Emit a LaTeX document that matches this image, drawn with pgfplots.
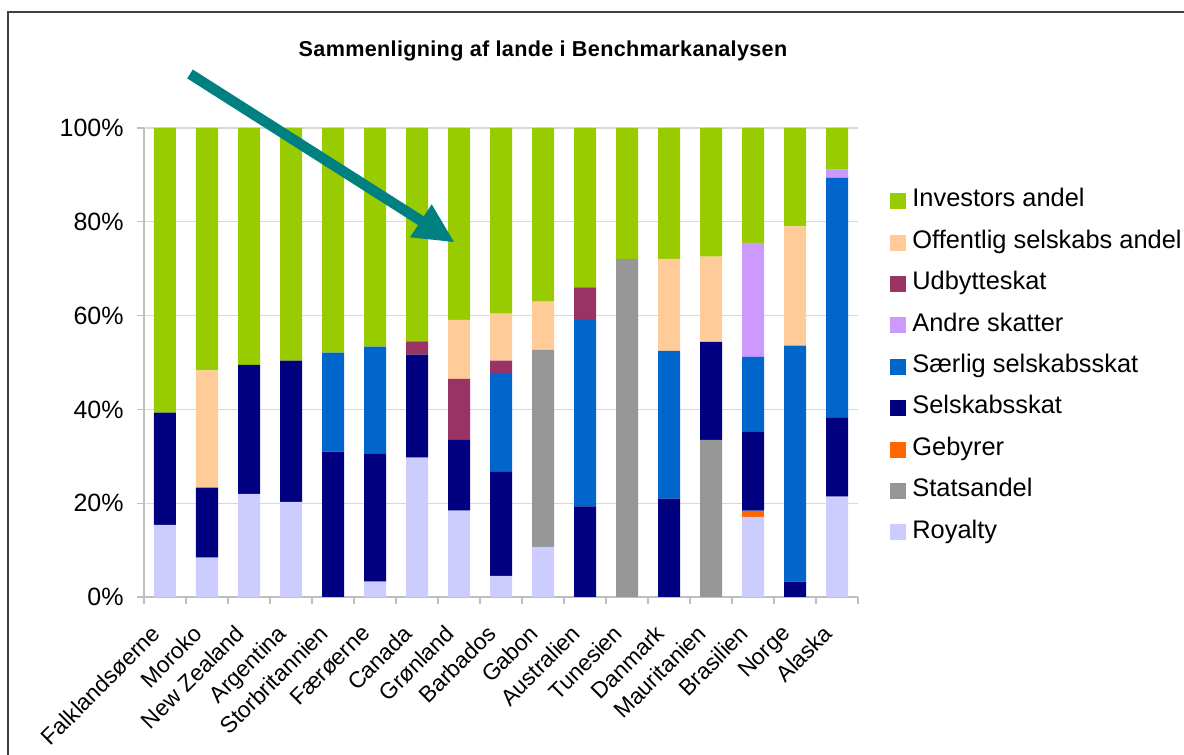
\documentclass[border=0pt]{standalone}
\usepackage{pgfplots}
\pgfplotsset{compat=1.18}
\usepackage{pgfplotstable}
\usepackage{fontspec}
\setmainfont{Liberation Sans}
\definecolor{cInv}{HTML}{99CC00}
\definecolor{cOff}{HTML}{FFCC99}
\definecolor{cUdb}{HTML}{993366}
\definecolor{cAnd}{HTML}{CC99FF}
\definecolor{cSaer}{HTML}{0066CC}
\definecolor{cSel}{HTML}{000080}
\definecolor{cGeb}{HTML}{FF6600}
\definecolor{cStat}{HTML}{969696}
\definecolor{cRoy}{HTML}{CCCCFF}
\definecolor{cArrow}{HTML}{008080}
\definecolor{cFrame}{HTML}{404040}
\definecolor{cGrid}{HTML}{D9D9D9}
\definecolor{cAxis}{HTML}{BFBFBF}

\pgfplotstableread{
x  roy  stat geb sel  saer andre udb  off  inv
0  15.4 0    0   23.9 0    0     0    0    60.7
1  8.4  0    0   14.9 0    0     0    25.0 51.7
2  22.0 0    0   27.5 0    0     0    0    50.5
3  20.3 0    0   30.1 0    0     0    0    49.6
4  0    0    0   31.0 21.1 0     0    0    47.9
5  3.3  0    0   27.3 22.8 0     0    0    46.6
6  29.7 0    0   22.0 0    0     2.8  0    45.5
7  18.4 0    0   15.1 0    0     13.0 12.6 40.9
8  4.5  0    0   22.2 21.1 0     2.6  10.0 39.6
9  10.7 42.0 0   0    0    0     0    10.3 37.0
10 0    0    0   19.3 39.8 0     6.9  0    34.0
11 0    72.1 0   0    0    0     0    0    27.9
12 0    0    0   21.0 31.5 0     0    19.6 27.9
13 0    33.5 0   20.9 0    0     0    18.2 27.4
14 17.1 0    1.3 16.9 15.9 24.3  0    0    24.5
15 0    0    0   3.3  50.3 0     0    25.4 21.0
16 21.4 0    0   16.8 51.2 1.7   0    0    8.9
}\data

\begin{document}
\begin{tikzpicture}[x=1pt,y=1pt]
\useasboundingbox (0,0) rectangle (592,377.5);
\draw[cFrame, line width=0.8pt] (4,-10) rectangle (600,371.5);
\node[font=\bfseries\fontsize{10.8}{13}\selectfont] at (271.5,352) {\addfontfeatures{LetterSpace=1.5}Sammenligning af lande i Benchmarkanalysen};
\begin{axis}[
  at={(72pt,79pt)}, anchor=south west,
  scale only axis, width=357pt, height=234.5pt,
  ybar stacked, bar width=11pt,
  xmin=-0.5, xmax=16.5, ymin=0, ymax=100,
  axis x line*=bottom, axis y line*=left,
  axis line style={cAxis, line width=0.6pt},
  ymajorgrids, grid style={cGrid, line width=0.6pt},
  ytick={0,20,...,100},
  yticklabel={\pgfmathprintnumber{\tick}\%},
  xtick={0,...,16},
  xticklabels={Falklandsøerne,Moroko,New Zealand,Argentina,Storbritannien,Færøerne,Canada,Grønland,Barbados,Gabon,Australien,Tunesien,Danmark,Mauritanien,Brasilien,Norge,Alaska},
  minor xtick={-0.5,0.5,...,16.5},
  tick align=outside,
  major tick length=3.5pt, minor tick length=3.5pt,
  x tick style={draw=none}, minor x tick style={cAxis, draw=cAxis, line width=0.6pt},
  y tick style={cAxis, line width=0.6pt},
  /pgf/number format/assume math mode=true,
  ticklabel style={font=\fontsize{12.5}{14}\selectfont},
  xticklabel style={font=\fontsize{11.4}{13}\selectfont, rotate=45, anchor=north east, inner sep=1pt, xshift=-11pt, yshift=-0.5pt},
  yticklabel style={inner sep=2pt, xshift=-4.5pt},
  legend image code/.code={\fill[#1] (0pt,-4pt) rectangle (8pt,4pt);},
  reverse legend,
  legend cell align=left,
  legend style={at={(1.0448,0.870)}, anchor=north west, draw=none, fill=none,
    inner sep=0pt, row sep=8.8pt, font=\fontsize{12.7}{14}\selectfont,
    nodes={inner sep=0pt, text height=8.8pt, text depth=3.1pt},
    /tikz/every odd column/.append style={column sep=3pt}},
  every axis plot/.append style={draw=none},
]
\addplot[fill=cRoy] table[x=x,y=roy]{\data};
\addplot[fill=cStat] table[x=x,y=stat]{\data};
\addplot[fill=cGeb] table[x=x,y=geb]{\data};
\addplot[fill=cSel] table[x=x,y=sel]{\data};
\addplot[fill=cSaer] table[x=x,y=saer]{\data};
\addplot[fill=cAnd] table[x=x,y=andre]{\data};
\addplot[fill=cUdb] table[x=x,y=udb]{\data};
\addplot[fill=cOff] table[x=x,y=off]{\data};
\addplot[fill=cInv] table[x=x,y=inv]{\data};
\legend{Royalty,Statsandel,Gebyrer,Selskabsskat,Særlig selskabsskat,Andre skatter,Udbytteskat,Offentlig selskabs andel,Investors andel}
\end{axis}
\draw[cArrow, line width=5.25pt] (95,340.5) -- (211.5,266.5);
\fill[cArrow] (227,256.5) -- (205,258.85) -- (215.85,275.35) -- cycle;
\end{tikzpicture}
\end{document}
